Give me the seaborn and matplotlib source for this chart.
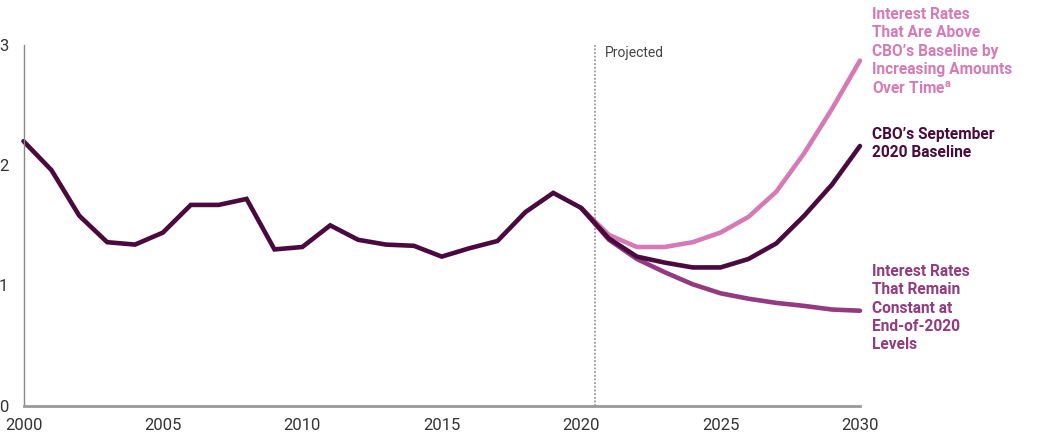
import matplotlib
matplotlib.use("Agg")
import matplotlib.pyplot as plt
import seaborn as sns
import pandas as pd
import numpy as np

# ---- data ----
hist_years = list(range(2000, 2021))
hist_values = [2.20, 1.96, 1.58, 1.36, 1.34, 1.44, 1.67, 1.67, 1.72, 1.30, 1.32,
               1.50, 1.38, 1.34, 1.33, 1.24, 1.31, 1.37, 1.61, 1.77, 1.645]
proj_years = list(range(2020, 2031))
baseline_proj = [1.645, 1.39, 1.24, 1.19, 1.15, 1.15, 1.22, 1.35, 1.58, 1.84, 2.16]
above_proj = [1.645, 1.42, 1.32, 1.32, 1.36, 1.44, 1.57, 1.78, 2.10, 2.47, 2.87]
constant_proj = [1.645, 1.38, 1.22, 1.11, 1.01, 0.935, 0.89, 0.855, 0.83, 0.80, 0.79]

series_names = ["Above", "Constant", "Baseline"]
colors = {"Above": "#d67ab6", "Constant": "#923b80", "Baseline": "#4b0a3e"}
x_ticks = [2000, 2005, 2010, 2015, 2020, 2025, 2030]
y_ticks = [0, 1, 2, 3]

rows = []
for y, v in zip(hist_years, hist_values):
    rows.append(("Baseline", y, v))
for name, vals in [("Above", above_proj), ("Constant", constant_proj), ("Baseline", baseline_proj)]:
    for y, v in zip(proj_years, vals):
        if name == "Baseline" and y == 2020:
            continue
        rows.append((name, y, v))
df = pd.DataFrame(rows, columns=["series", "year", "value"])

sns.set_style("white")
FONT = ["Roboto", "Liberation Sans", "DejaVu Sans"]
plt.rcParams["font.family"] = FONT
plt.rcParams["mathtext.fontset"] = "custom"
plt.rcParams["mathtext.bf"] = "Roboto:bold"
plt.rcParams["mathtext.rm"] = "Roboto"

fig = plt.figure(figsize=(10.5, 4.42), dpi=100)
ax = fig.add_axes([0.0224, 0.0821, 0.7966, 0.8161])

for name in series_names:
    sub = df[df.series == name]
    sns.lineplot(data=sub, x="year", y="value", ax=ax, color=colors[name],
                 linewidth=3.3, estimator=None, sort=True, legend=False)
for line in ax.lines:
    line.set_clip_on(False)
    line.set_solid_joinstyle("miter")

ax.set_xlim(2000, 2030)
ax.set_ylim(0, 3)
ax.set_xticks(x_ticks)
ax.set_yticks(y_ticks)
ax.set_xlabel("")
ax.set_ylabel("")
ax.tick_params(axis="both", direction="in", length=6, width=1, color="#888888",
               labelsize=12, labelcolor="#333333")
ax.tick_params(axis="x", pad=9)
ax.tick_params(axis="y", pad=11)
for s in ["top", "right"]:
    ax.spines[s].set_visible(False)
ax.spines["left"].set_color("#888888")
ax.spines["left"].set_linewidth(1)
ax.spines["bottom"].set_color("#999999")
ax.spines["bottom"].set_linewidth(2)

ax.axvline(2020.5, color="#888888", linestyle=(0, (1.2, 1.2)), linewidth=1.1, zorder=0)
ax.text(2020.85, 2.93, "Projected", fontsize=10, color="#444444", ha="left", va="center")

lx = 872 / 1050
kw = dict(fontsize=11.2, fontweight="bold", va="top", ha="left", linespacing=1.28)
fig.text(lx, 1 - 7 / 442, "Interest Rates\nThat Are Above\nCBO’s Baseline by\nIncreasing Amounts\nOver Time$^{\\mathbf{a}}$",
         color=colors["Above"], **kw)
fig.text(lx, 1 - 127 / 442, "CBO’s September\n2020 Baseline",
         color=colors["Baseline"], **kw)
fig.text(lx, 1 - 264 / 442, "Interest Rates\nThat Remain\nConstant at\nEnd-of-2020\nLevels",
         color=colors["Constant"], **kw)

fig.savefig("out.png", dpi=100)
